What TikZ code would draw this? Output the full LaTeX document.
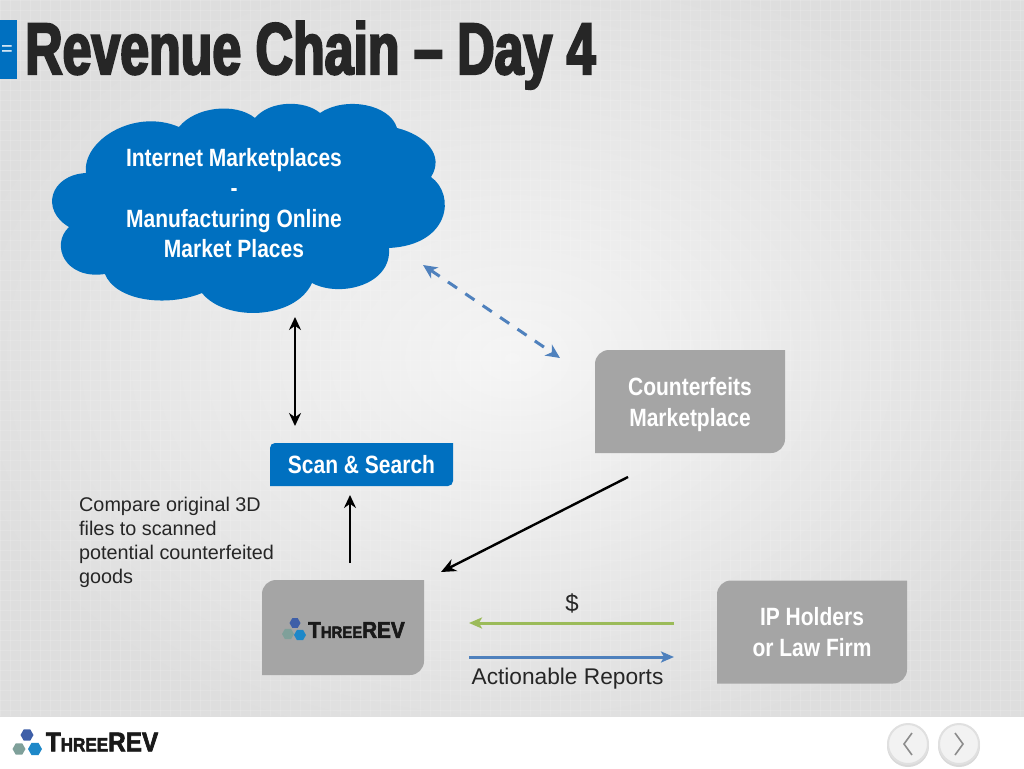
\documentclass[tikz,border=0pt]{standalone}
\usepackage{fontspec}
\setmainfont{Liberation Sans}
\newfontfamily\headfont{Liberation Sans}[UprightFont={* Bold},FakeStretch=0.71,FakeBold=3]
\newfontfamily\narrowfont{Liberation Sans}[UprightFont={* Bold},FakeStretch=0.84]
\newfontfamily\logofont{Liberation Sans}[UprightFont={* Bold},FakeBold=2.5,FakeStretch=0.9]
\usetikzlibrary{arrows.meta,positioning,shapes.geometric}
\definecolor{revblue}{HTML}{0070C0}
\definecolor{boxgray}{HTML}{A5A5A5}
\definecolor{inkgray}{HTML}{262626}
\definecolor{dollargreen}{HTML}{9BBB59}
\definecolor{reportblue}{HTML}{4F81BD}
\definecolor{cubetop}{HTML}{3E5FA8}
\definecolor{cubeleft}{HTML}{7FA09A}
\definecolor{cuberight}{HTML}{1E88C8}
\newcommand{\logotext}[2]{{\logofont\fontsize{#1}{#1}\selectfont T\fontsize{#2}{#2}\selectfont HREE\fontsize{#1}{#1}\selectfont REV}}
% two corners round, two square
\newcommand{\cornerfill}[2]{\fill[#1] (path picture bounding box.south west) -- ([yshift=-#2]path picture bounding box.north west) to[out=90,in=180] ([xshift=#2]path picture bounding box.north west) -- (path picture bounding box.north east) -- ([yshift=#2]path picture bounding box.south east) to[out=-90,in=0] ([xshift=-#2]path picture bounding box.south east) -- cycle;}
\tikzset{
	cornerbox/.style={minimum width=#1,inner sep=0pt,align=center,text=white,
		font=\narrowfont\fontsize{25}{31}\selectfont,
		path picture={\cornerfill{boxgray}{14pt}}},
	plainlabel/.style={inner sep=0pt,text=black!85,font=\fontsize{19.8}{24}\selectfont},
	blackarrow/.style={line width=2.4pt},
	navbutton/.style={circle,minimum size=40,inner sep=0pt,fill=white!95!black,draw=black!12,line width=2pt},
	navmark/.style={black!45,line width=1.6pt},
	logocube/.style={regular polygon,regular polygon sides=6,inner sep=0pt,minimum size=#1}
}
\begin{document}
\begin{tikzpicture}[x=1pt,y=-1pt]
	\useasboundingbox (0,0) rectangle (1024,768);
	% backdrop
	\fill[white] (-2,-2) rectangle (1026,770);
	\begin{scope}
		\clip (0,0) rectangle (1024,716);
		\shade[inner color=white!96!black,outer color=white!87!black] (-60,-45) rectangle (1084,761);
		\foreach \x in {0,10,...,1020}
			\draw[white,opacity=.12,line width=.6pt] (\x,0) -- (\x,716);
		\foreach \y in {0,10,...,710}
			\draw[white,opacity=.12,line width=.6pt] (0,\y) -- (1024,\y);
	\end{scope}
	% title
	\fill[revblue] (0,20) rectangle (17,79);
	\node (tabmark) at (7,51) [inner sep=0pt,text=white,font=\fontsize{20}{20}\selectfont] {=};
	\node (title) at (25,74) [anchor=base west,inner sep=0pt,text=inkgray,font=\headfont\fontsize{73}{73}\selectfont] {Revenue Chain – Day 4};
	% cloud
	\fill[revblue] (86,173)
		.. controls (82,140) and (135,108) .. (179,127)
		.. controls (195,107) and (235,102) .. (255,118)
		.. controls (270,100) and (305,100) .. (320,113)
		.. controls (345,96) and (390,104) .. (397,128)
		.. controls (425,135) and (445,155) .. (431,177)
		.. controls (456,195) and (450,245) .. (389,248)
		.. controls (392,285) and (340,298) .. (312,283)
		.. controls (295,320) and (225,322) .. (202,293)
		.. controls (165,308) and (115,300) .. (105,274)
		.. controls (65,280) and (50,245) .. (69,227)
		.. controls (40,210) and (50,175) .. (86,173) -- cycle;
	\node (cloud) at (234,203) [inner sep=0pt,align=center,text=white,font=\narrowfont\fontsize{25}{30.5}\selectfont] {Internet Marketplaces\\-\\Manufacturing Online\\Market Places};
	% boxes
	\node (scan) at (361.5,464.5) [minimum width=183,minimum height=43,inner sep=0pt,text=white,font=\narrowfont\fontsize{25}{30}\selectfont,
		path picture={\cornerfill{revblue}{5pt}}] {Scan \& Search};
	\node (fakes) at (690,401.5) [cornerbox=190,minimum height=103] {\rule{0pt}{24pt}Counterfeits\\Marketplace};
	\node (threerev) at (343,627.5) [cornerbox=162,minimum height=95] {};
	\node (holders) at (812,632) [cornerbox=190,minimum height=103] {IP Holders\\or Law Firm};
	% logo in box
	\node (boxlogo) at (356.5,630) [inner sep=0pt,text=black!90] {\logotext{23}{16.5}};
	\node (boxcubea) at (295,623) [logocube=11,fill=cubetop] {};
	\node (boxcubeb) at (288,634) [logocube=12,fill=cubeleft] {};
	\node (boxcubec) at (300,635) [logocube=12,fill=cuberight] {};
	% footer logo
	\node (footlogo) at (102,742) [inner sep=0pt,text=black!90] {\logotext{27}{19}};
	\node (footcubea) at (27,735) [logocube=13,fill=cubetop] {};
	\node (footcubeb) at (19,749) [logocube=13,fill=cubeleft] {};
	\node (footcubec) at (35,749) [logocube=14,fill=cuberight] {};
	% nav buttons
	\node (prevshade) at (908,746) [circle,minimum size=42,inner sep=0pt,fill=black!15] {};
	\node (nextshade) at (959,746) [circle,minimum size=42,inner sep=0pt,fill=black!15] {};
	\node (prevbtn) at (908,744) [navbutton] {};
	\node (nextbtn) at (959,744) [navbutton] {};
	\draw[navmark] (912,733) -- (904,744) -- (912,755);
	\draw[navmark] (955,733) -- (963,744) -- (955,755);
	% labels
	\node (compare) at (79,542) [anchor=west,plainlabel,align=left] {Compare original 3D\\files to scanned\\potential counterfeited\\goods};
	\node (dollar) at (572,603) [plainlabel,font=\fontsize{24}{24}\selectfont] {\$};
	\node (reports) at (567.5,679) [plainlabel,font=\fontsize{22.7}{24}\selectfont] {Actionable Reports};
	% free ends of the arrows
	\coordinate (cloudlow) at (295,317);
	\coordinate (scantop) at (295,426);
	\coordinate (logotop) at (350,563);
	\coordinate (scanlow) at (350,495);
	\coordinate (fakeslow) at (628,477);
	\coordinate (logoright) at (441,572);
	\coordinate (cloudright) at (423,265);
	\coordinate (fakesleft) at (560,358);
	\coordinate (holdersa) at (674,623);
	\coordinate (logoa) at (469,623);
	\coordinate (logob) at (469,657);
	\coordinate (holdersb) at (674,657);
	% arrows
	\draw[{Stealth[length=13,width=12]}-{Stealth[length=13,width=12]},blackarrow] (cloudlow) -- (scantop);
	\draw[-{Stealth[length=13,width=12]},blackarrow] (logotop) -- (scanlow);
	\draw[-{Stealth[length=15,width=13]},blackarrow] (fakeslow) -- (logoright);
	\draw[{Stealth[length=14,width=13,inset=4]}-{Stealth[length=14,width=13,inset=4]},reportblue,line width=3pt,dash pattern=on 11pt off 10pt] (cloudright) -- (fakesleft);
	\draw[-{Stealth[length=13,width=11,inset=3]},dollargreen,line width=3pt] (holdersa) -- (logoa);
	\draw[-{Stealth[length=13,width=11,inset=3]},reportblue,line width=3pt] (logob) -- (holdersb);
\end{tikzpicture}
\end{document}
